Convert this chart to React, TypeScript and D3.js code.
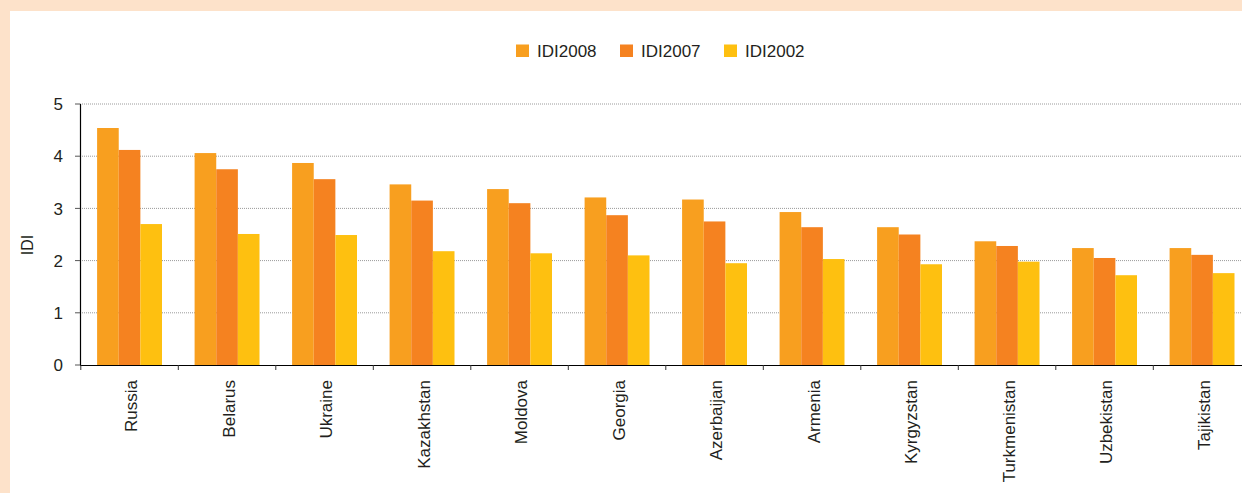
import React from "react";
import * as d3 from "d3";

const categories = ["Russia", "Belarus", "Ukraine", "Kazakhstan", "Moldova", "Georgia", "Azerbaijan", "Armenia", "Kyrgyzstan", "Turkmenistan", "Uzbekistan", "Tajikistan"];
const idi2008 = [4.54, 4.06, 3.87, 3.46, 3.37, 3.21, 3.17, 2.93, 2.64, 2.37, 2.24, 2.24];
const idi2007 = [4.12, 3.75, 3.56, 3.15, 3.10, 2.87, 2.75, 2.64, 2.50, 2.28, 2.05, 2.11];
const idi2002 = [2.70, 2.51, 2.49, 2.18, 2.14, 2.10, 1.95, 2.03, 1.93, 1.98, 1.72, 1.76];
const seriesNames = ["IDI2008", "IDI2007", "IDI2002"];
const yTicks = [0, 1, 2, 3, 4, 5];

const W = 1242;
const H = 493;
const colors = ["#F89F1F", "#F58220", "#FEC010"];
const textColor = "#231F20";
const font = "'Liberation Sans', Arial, sans-serif";

export default function App() {
  const series = [idi2008, idi2007, idi2002];
  const x0 = d3.scaleBand<string>().domain(categories).range([80.8, 1250.8]).paddingInner(0).paddingOuter(0);
  const inner = d3.scaleBand<string>().domain(seriesNames).range([16.3, x0.bandwidth() - 16.3]);
  const y = d3.scaleLinear().domain([0, 5]).range([365, 104]);

  const legendX = [516, 620, 724];

  return (
    <svg width={W} height={H} style={{ position: "absolute", left: 0, top: 0 }} fontFamily={font}>
      <rect x={0} y={0} width={W} height={H} fill="#FDE2CA" />
      <rect x={10} y={11} width={W - 10} height={H - 11} fill="#FFFFFF" />

      {/* gridlines */}
      {yTicks.filter((t) => t > 0).map((t) => (
        <line key={"g" + t} x1={80} x2={W} y1={y(t)} y2={y(t)} stroke="#9A9A9A" strokeWidth={1} strokeDasharray="1,1" />
      ))}

      {/* bars */}
      {categories.map((c, i) => (
        <g key={c}>
          {series.map((s, j) => (
            <rect
              key={j}
              x={(x0(c) as number) + (inner(seriesNames[j]) as number)}
              y={y(s[i])}
              width={inner.bandwidth()}
              height={y(0) - y(s[i])}
              fill={colors[j]}
            />
          ))}
        </g>
      ))}

      {/* y axis */}
      <line x1={80.5} x2={80.5} y1={y(5)} y2={y(0)} stroke="#000" strokeWidth={1.2} />
      {yTicks.map((t) => (
        <g key={"t" + t}>
          <line x1={75} x2={80} y1={y(t)} y2={y(t)} stroke="#555" />
          <text x={63} y={y(t)} dy="0.36em" textAnchor="end" fontSize={17} fill={textColor}>
            {t}
          </text>
        </g>
      ))}
      <text transform={`translate(33,245) rotate(-90)`} textAnchor="middle" fontSize={16} fill={textColor}>
        IDI
      </text>

      {/* x axis */}
      <line x1={80} x2={W} y1={365.5} y2={365.5} stroke="#000" strokeWidth={1.2} />
      {categories.map((c) => (
        <line key={"xt" + c} x1={x0(c) as number} x2={x0(c) as number} y1={365} y2={370} stroke="#333" />
      ))}
      {categories.map((c) => (
        <text
          key={"xl" + c}
          transform={`translate(${(x0(c) as number) + x0.bandwidth() / 2 + 1.5},${380}) rotate(-90)`}
          dy="0.35em"
          textAnchor="end"
          fontSize={17}
          fill={textColor}
        >
          {c}
        </text>
      ))}

      {/* legend */}
      {seriesNames.map((n, j) => (
        <g key={n}>
          <rect x={legendX[j]} y={44.5} width={13} height={12.5} fill={colors[j]} />
          <text x={legendX[j] + 21} y={57} fontSize={17} fill={textColor}>
            {n}
          </text>
        </g>
      ))}
    </svg>
  );
}
